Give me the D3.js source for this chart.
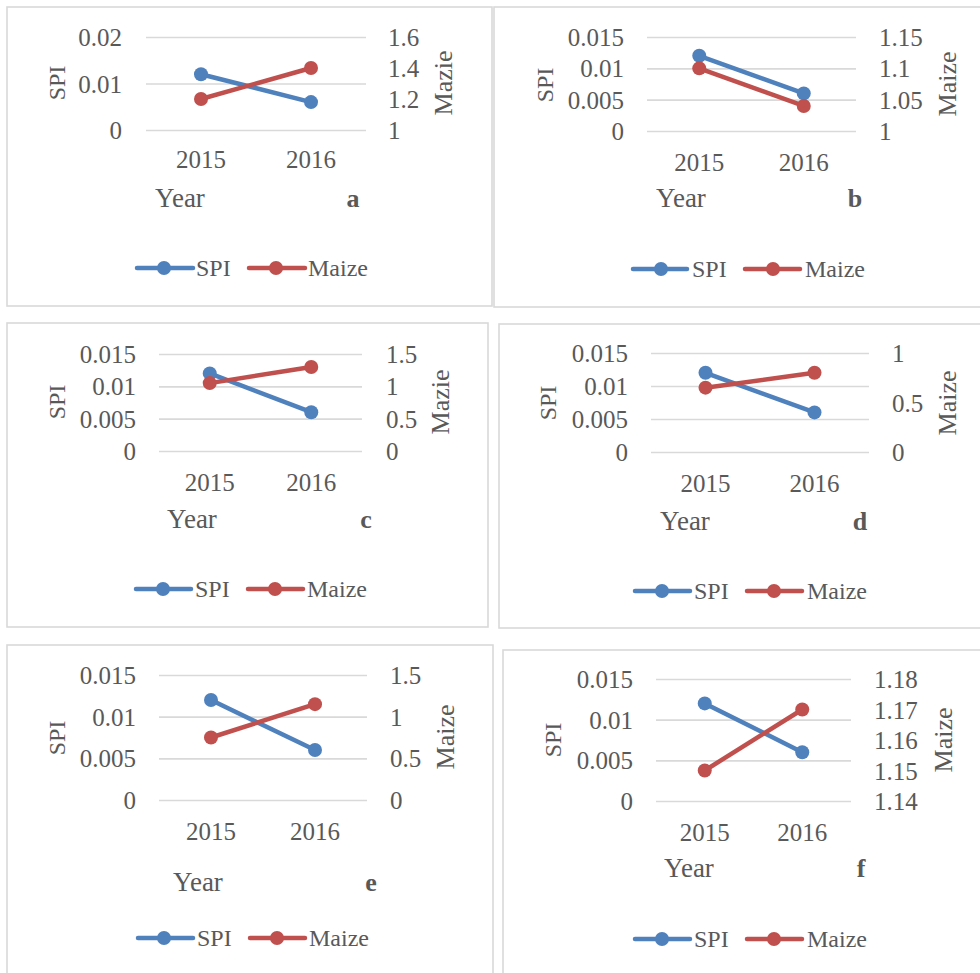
<!DOCTYPE html>
<html>
<head>
<meta charset="utf-8">
<script src="https://cdn.jsdelivr.net/npm/d3@7"></script>
<style>
  html, body { margin: 0; padding: 0; background: #ffffff; }
  svg { display: block; }
  text { font-family: "Liberation Serif", "DejaVu Serif", serif; fill: #595959; }
</style>
</head>
<body>
<svg id="chart" width="980" height="973"></svg>
<script>
// ---- data ----
const years = ["2015", "2016"];
const panelLetters = ["a", "b", "c", "d", "e", "f"];
const spiSeries = [
  [0.012, 0.006],
  [0.012, 0.006],
  [0.012, 0.006],
  [0.012, 0.006],
  [0.012, 0.006],
  [0.012, 0.006]
];
const maizeSeries = [
  [1.2, 1.4],
  [1.1, 1.04],
  [1.05, 1.3],
  [0.65, 0.8],
  [0.75, 1.15],
  [1.15, 1.17]
];
const spiTicks = [
  [0, 0.01, 0.02],
  [0, 0.005, 0.01, 0.015],
  [0, 0.005, 0.01, 0.015],
  [0, 0.005, 0.01, 0.015],
  [0, 0.005, 0.01, 0.015],
  [0, 0.005, 0.01, 0.015]
];
const maizeTicks = [
  [1, 1.2, 1.4, 1.6],
  [1, 1.05, 1.1, 1.15],
  [0, 0.5, 1, 1.5],
  [0, 0.5, 1],
  [0, 0.5, 1, 1.5],
  [1.14, 1.15, 1.16, 1.17, 1.18]
];
const leftTitles = ["SPI", "SPI", "SPI", "SPI", "SPI", "SPI"];
const rightTitles = ["Mazie", "Maize", "Mazie", "Maize", "Maize", "Maize"];
const xTitles = ["Year", "Year", "Year", "Year", "Year", "Year"];
const seriesNames = ["SPI", "Maize"];

// ---- layout of each panel ----
const layout = [
  { box: [7, 7, 492, 306],   plot: [146, 366, 37, 130],  lRight: 122, rLeft: 388, xLab: 159,
    lTitle: [57, 83],  rTitle: [443, 83],  year: [180, 207], letter: [353, 207],
    legY: 268, leg: [[137, 193, 164, 196], [249, 305, 276, 308]] },
  { box: [494, 7, 1000, 307], plot: [647, 856, 37, 131], lRight: 624, rLeft: 879, xLab: 162,
    lTitle: [545, 85], rTitle: [947, 84], year: [681, 207], letter: [855, 207],
    legY: 269, leg: [[633, 687, 661, 692], [745, 800, 773, 805]] },
  { box: [7, 323, 488, 627],  plot: [159, 362, 354, 451], lRight: 136, rLeft: 386, xLab: 482,
    lTitle: [57, 402], rTitle: [440, 402], year: [192, 528], letter: [366, 528],
    legY: 589, leg: [[136, 191, 163, 195], [248, 303, 275, 307]] },
  { box: [499, 324, 1000, 628], plot: [651, 869, 353, 452], lRight: 628, rLeft: 892, xLab: 483,
    lTitle: [548, 403], rTitle: [947, 403], year: [685, 530], letter: [860, 530],
    legY: 591, leg: [[635, 690, 662, 694], [747, 802, 774, 807]] },
  { box: [7, 645, 493, 1000],  plot: [159, 367, 675, 800], lRight: 136, rLeft: 390, xLab: 831,
    lTitle: [57, 738], rTitle: [445, 737], year: [198, 891], letter: [371, 891],
    legY: 938, leg: [[138, 193, 164, 197], [250, 305, 277, 309]] },
  { box: [503, 650, 1000, 1000], plot: [656, 851, 679, 801], lRight: 633, rLeft: 874, xLab: 832,
    lTitle: [553, 740], rTitle: [943, 740], year: [689, 877], letter: [861, 877],
    legY: 939, leg: [[635, 690, 662, 694], [747, 802, 774, 807]] }
];

const colors = ["#4f81bd", "#c0504d"];
const tickSize = 25;
const titleSize = 26;
const legendSize = 24;
const serif = '"Liberation Serif", "DejaVu Serif", serif';
const svg = d3.select("#chart");

function styleAxis(sel) {
  sel.attr("font-family", serif).attr("font-size", tickSize);
  sel.select(".domain").remove();
  sel.selectAll("text").attr("fill", "#595959").attr("dy", "0.34em");
}

panelLetters.forEach((letter, i) => {
  const L = layout[i];
  const [x0, x1, yTop, yBottom] = L.plot;
  const g = svg.append("g").attr("class", "panel panel-" + letter);

  // frame
  g.append("rect")
    .attr("x", L.box[0]).attr("y", L.box[1])
    .attr("width", L.box[2] - L.box[0]).attr("height", L.box[3] - L.box[1])
    .attr("fill", "#ffffff").attr("stroke", "#d9d9d9").attr("stroke-width", 1.6);

  const x = d3.scaleBand().domain(years).range([x0, x1]).padding(0);
  const sTicks = spiTicks[i];
  const mTicks = maizeTicks[i];
  const yL = d3.scaleLinear().domain([sTicks[0], sTicks[sTicks.length - 1]]).range([yBottom, yTop]);
  const yR = d3.scaleLinear().domain([mTicks[0], mTicks[mTicks.length - 1]]).range([yBottom, yTop]);

  // gridlines
  const grid = g.append("g").attr("transform", `translate(${x0},0)`)
    .call(d3.axisLeft(yL).tickValues(sTicks).tickSize(-(x1 - x0)).tickFormat(""));
  grid.select(".domain").remove();
  grid.selectAll("line").attr("stroke", "#d9d9d9").attr("stroke-width", 1.6);

  // left axis labels
  g.append("g").attr("transform", `translate(${x0},0)`)
    .call(d3.axisLeft(yL).tickValues(sTicks).tickSize(0).tickPadding(x0 - L.lRight).tickFormat(d => String(d)))
    .call(styleAxis);

  // right axis labels
  g.append("g").attr("transform", `translate(${x1},0)`)
    .call(d3.axisRight(yR).tickValues(mTicks).tickSize(0).tickPadding(L.rLeft - x1).tickFormat(d => String(d)))
    .call(styleAxis);

  // category axis labels
  g.append("g").attr("transform", `translate(0,${L.xLab})`)
    .call(d3.axisBottom(x).tickSize(0).tickPadding(0))
    .call(styleAxis)
    .selectAll("text").attr("y", 0);

  // axis titles
  g.append("text").attr("transform", `translate(${L.lTitle[0]},${L.lTitle[1]}) rotate(-90)`)
    .attr("text-anchor", "middle").attr("dy", "0.34em").attr("font-size", 24).text(leftTitles[i]);
  g.append("text").attr("transform", `translate(${L.rTitle[0]},${L.rTitle[1]}) rotate(-90)`)
    .attr("text-anchor", "middle").attr("dy", "0.34em").attr("font-size", titleSize).text(rightTitles[i]);
  g.append("text").attr("x", L.year[0]).attr("y", L.year[1])
    .attr("text-anchor", "middle").attr("font-size", titleSize + 1).text(xTitles[i]);
  g.append("text").attr("x", L.letter[0]).attr("y", L.letter[1])
    .attr("text-anchor", "middle").attr("font-size", titleSize).attr("font-weight", "bold").text(letter);

  // series lines and markers
  const series = [
    { vals: spiSeries[i], scale: yL },
    { vals: maizeSeries[i], scale: yR }
  ];
  series.forEach((s, k) => {
    const pts = years.map((yr, j) => [x(yr) + x.bandwidth() / 2, s.scale(s.vals[j])]);
    g.append("path").attr("d", d3.line()(pts))
      .attr("fill", "none").attr("stroke", colors[k]).attr("stroke-width", 4.5).attr("stroke-linecap", "round");
    g.selectAll(null).data(pts).enter().append("circle")
      .attr("cx", d => d[0]).attr("cy", d => d[1]).attr("r", 7).attr("fill", colors[k]);
  });

  // legend
  seriesNames.forEach((name, k) => {
    const [lx0, lx1, mx, tx] = L.leg[k];
    g.append("line").attr("x1", lx0).attr("x2", lx1).attr("y1", L.legY).attr("y2", L.legY)
      .attr("stroke", colors[k]).attr("stroke-width", 4.5).attr("stroke-linecap", "round");
    g.append("circle").attr("cx", mx).attr("cy", L.legY).attr("r", 7).attr("fill", colors[k]);
    g.append("text").attr("x", tx).attr("y", L.legY).attr("dy", "0.34em")
      .attr("font-size", legendSize).text(name);
  });
});
</script>
</body>
</html>
